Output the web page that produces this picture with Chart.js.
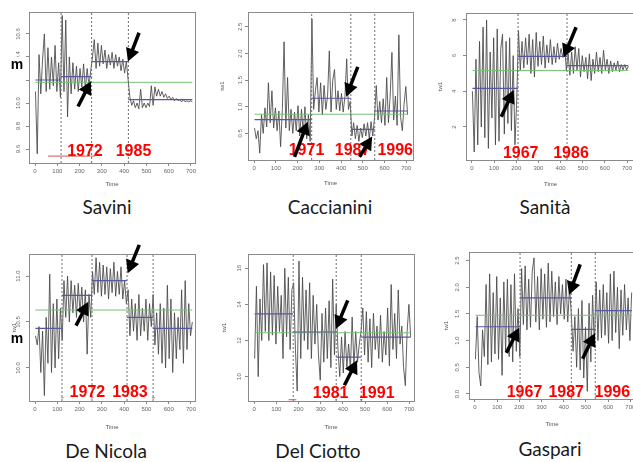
<!DOCTYPE html>
<html>
<head>
<meta charset="utf-8">
<script src="https://cdn.jsdelivr.net/npm/chart.js@4.4.0/dist/chart.umd.min.js"></script>
<style>
  html, body { margin: 0; padding: 0; background: #fff; overflow: hidden; }
  #wrap { position: relative; width: 633px; height: 462px; overflow: hidden; }
  #wrap canvas { position: absolute; }
  .name { position: absolute; width: 160px; text-align: center; font-family: Lato, 'Open Sans', sans-serif;
          font-size: 19px; line-height: 24px; color: #1a1a1a; }
</style>
</head>
<body>
<div id="wrap"></div>
<script>
// time axis: one value every 8 months starting at t = 2
const T0 = 2;
const STEP = 8;
const xTickValues = [0, 100, 200, 300, 400, 500, 600, 700];

const names = ['Savini', 'Caccianini', 'Sanità', 'De Nicola', 'Del Ciotto', 'Gaspari'];

// Savini
const saviniValues = [10.10, 9.56, 10.42, 10.08, 10.38, 10.60, 10.10, 10.48, 10.12, 10.40,
  10.15, 10.50, 10.10, 10.35, 10.05, 10.76, 10.10, 10.72, 9.88, 10.40,
  10.08, 10.35, 10.12, 10.32, 10.10, 10.30, 10.14, 10.34, 10.12, 10.30,
  10.15, 10.28, 10.40, 10.55, 10.30, 10.52, 10.32, 10.50, 10.34, 10.46,
  10.30, 10.42, 10.33, 10.44, 10.30, 10.42, 10.32, 10.40, 10.28, 10.38,
  10.26, 10.36, 10.20, 10.05, 9.98, 10.02, 9.96, 10.00, 9.95, 10.12,
  9.96, 10.00, 9.96, 10.00, 9.97, 10.15, 9.98, 10.14, 10.06, 10.12,
  10.06, 10.10, 10.05, 10.08, 10.04, 10.06, 10.03, 10.05, 10.02, 10.04,
  10.02, 10.03, 10.01, 10.03, 10.01, 10.02, 10.01, 10.02, 10.01];
const saviniBreaks = [117, 254, 419];
const saviniMeans = [10.20, 10.23, 10.36, 10.03];
const saviniOverall = 10.18;
const saviniYTicks = ['9.6', '9.8', '10.0', '10.2', '10.4', '10.6'];
const saviniYears = ['1972', '1985'];
const saviniCI = [[58, 248], [250, 268]];

// Caccianini
const caccianiniValues = [0.60, 0.40, 0.55, 0.13, 0.85, 0.50, 0.98, 0.62, 1.45, 0.70,
  1.30, 0.60, 0.98, 0.55, 0.92, 0.25, 0.95, 2.22, 0.60, 1.55,
  0.55, 0.95, 0.50, 0.90, 0.55, 1.02, 0.45, 0.95, 0.50, 1.00,
  0.40, 0.85, 0.35, 2.65, 0.95, 1.30, 1.55, 0.90, 1.45, 0.85,
  1.40, 0.95, 1.20, 2.05, 0.90, 1.50, 1.70, 0.95, 1.30, 0.92,
  1.25, 0.90, 1.20, 1.90, 0.95, 1.10, 0.45, 0.70, 0.40, 0.65,
  0.35, 0.60, 0.42, 0.68, 0.45, 0.70, 0.40, 0.72, 0.45, 0.80,
  1.40, 0.75, 1.10, 0.70, 1.15, 0.65, 1.55, 0.70, 1.20, 2.02,
  0.75, 1.20, 0.65, 2.35, 0.80, 0.55, 1.05, 1.38, 0.85];
const caccianiniBreaks = [265, 445, 555];
const caccianiniMeans = [0.76, 1.16, 0.575, 0.92];
const caccianiniOverall = 0.86;
const caccianiniYTicks = ['0.5', '1.0', '1.5', '2.0', '2.5'];
const caccianiniYears = ['1971', '1987', '1996'];
const caccianiniCI = [];

// Sanità
const sanitaValues = [4.0, 0.6, 5.8, 1.0, 6.8, 2.0, 7.6, 1.4, 8.0, 0.8,
  6.2, 2.5, 7.0, 1.0, 7.5, 1.2, 6.4, 7.2, 1.6, 6.8,
  2.2, 7.0, 1.8, 6.0, 1.0, 3.5, 7.4, 5.2, 6.8, 5.3,
  7.0, 5.5, 7.2, 5.0, 6.9, 4.8, 7.3, 5.4, 6.8, 5.5,
  7.1, 5.3, 6.6, 5.6, 6.9, 5.5, 6.5, 5.6, 6.7, 5.8,
  6.4, 5.9, 6.6, 5.2, 6.1, 4.9, 6.2, 5.0, 6.5, 5.2,
  6.4, 4.8, 6.0, 5.1, 5.9, 4.7, 6.1, 4.6, 5.8, 5.0,
  6.2, 5.1, 5.9, 5.0, 6.3, 5.2, 5.8, 5.0, 5.7, 5.1,
  5.6, 5.2, 5.7, 5.1, 5.5, 5.2, 5.5, 5.2, 5.4];
const sanitaBreaks = [208, 429];
const sanitaMeans = [4.16, 5.96, 5.44];
const sanitaOverall = 5.17;
const sanitaYTicks = ['2', '4', '6', '8'];
const sanitaYears = ['1967', '1986'];
const sanitaCI = [];

// De Nicola
const deNicolaValues = [10.35, 10.25, 10.45, 9.95, 10.40, 9.70, 10.55, 10.05, 11.02, 9.95,
  10.70, 10.00, 10.75, 10.10, 10.65, 10.30, 10.95, 10.55, 11.00, 10.50,
  10.95, 10.60, 10.90, 10.55, 10.92, 10.60, 10.88, 10.50, 10.85, 10.15,
  10.80, 10.55, 11.05, 10.80, 11.20, 10.82, 11.15, 10.78, 11.12, 10.80,
  11.10, 10.75, 11.08, 10.82, 11.15, 10.78, 11.05, 10.80, 11.10, 10.75,
  10.95, 10.70, 10.85, 10.35, 10.75, 10.40, 10.70, 10.30, 10.80, 10.35,
  10.65, 10.40, 10.75, 10.30, 10.70, 10.45, 10.80, 10.25, 10.60, 10.15,
  10.70, 10.05, 10.65, 10.00, 10.90, 10.10, 10.75, 9.95, 10.60, 10.10,
  10.55, 10.20, 10.85, 10.05, 10.95, 10.20, 10.70, 10.35, 10.50];
const deNicolaBreaks = [121, 256, 413, 530];
const deNicolaMeans = [10.43, 10.79, 10.95, 10.55, 10.43];
const deNicolaOverall = 10.63;
const deNicolaYTicks = ['10.0', '10.5', '11.0'];
const deNicolaYears = ['1972', '1983'];
const deNicolaCI = [[118, 128], [250, 262], [525, 538]];

// Del Ciotto
const delCiottoValues = [11.0, 15.0, 10.0, 14.3, 12.0, 16.2, 12.5, 16.3, 12.0, 15.8,
  12.3, 15.6, 11.8, 15.0, 12.5, 14.5, 11.0, 16.0, 12.2, 15.5,
  11.5, 14.8, 15.2, 11.5, 9.2, 16.4, 11.0, 15.5, 12.0, 14.8,
  11.5, 15.2, 11.0, 14.5, 11.8, 14.0, 11.2, 9.8, 13.5, 10.8,
  13.8, 11.0, 14.2, 10.5, 15.4, 11.2, 14.0, 11.5, 10.0, 12.2,
  10.2, 12.5, 10.5, 11.8, 10.4, 13.3, 10.6, 12.5, 10.8, 11.8,
  12.5, 13.8, 11.2, 13.6, 10.8, 13.2, 10.5, 13.5, 11.5, 12.8,
  11.0, 13.4, 10.8, 12.5, 11.2, 13.8, 10.6, 15.1, 11.5, 13.5,
  11.0, 14.8, 11.8, 12.8, 10.5, 9.5, 12.5, 14.0, 12.2];
const delCiottoBreaks = [176, 370, 483];
const delCiottoMeans = [13.48, 12.47, 11.08, 12.19];
const delCiottoOverall = 12.43;
const delCiottoYTicks = ['10', '12', '14', '16'];
const delCiottoYears = ['1981', '1991'];
const delCiottoCI = [[155, 190], [366, 374], [478, 488]];

// Gaspari
const gaspariValues = [0.65, 1.45, 0.40, 0.15, 1.20, 0.70, 2.05, 0.55, 2.25, 0.60,
  1.90, 0.75, 2.20, 0.65, 1.80, 0.35, 2.10, 0.80, 2.15, 0.70,
  2.05, 0.60, 2.25, 0.80, 1.60, 0.70, 2.35, 1.30, 2.40, 1.20,
  2.15, 1.25, 2.30, 2.55, 1.35, 2.20, 1.20, 2.35, 1.40, 2.25,
  1.25, 2.45, 1.35, 2.30, 1.45, 2.10, 1.30, 2.20, 1.50, 2.05,
  1.40, 2.15, 1.35, 2.00, 1.50, 0.80, 1.45, 0.50, 1.60, 0.45,
  1.75, 0.30, 1.25, 0.05, 1.70, 0.60, 1.85, 0.90, 2.10, 1.00,
  1.95, 1.05, 2.05, 1.10, 1.90, 0.95, 2.25, 1.00, 2.30, 1.15,
  2.00, 0.85, 1.95, 1.10, 2.05, 1.20, 1.80, 1.00, 1.90];
const gaspariBreaks = [203, 434, 542];
const gaspariMeans = [1.26, 1.80, 1.21, 1.56];
const gaspariOverall = 1.475;
const gaspariYTicks = ['0.0', '0.5', '1.0', '1.5', '2.0', '2.5'];
const gaspariYears = ['1967', '1987', '1996'];
const gaspariCI = [];

const series = [
  { values: saviniValues, breaks: saviniBreaks, means: saviniMeans, overall: saviniOverall, yTicks: saviniYTicks, years: saviniYears, ci: saviniCI },
  { values: caccianiniValues, breaks: caccianiniBreaks, means: caccianiniMeans, overall: caccianiniOverall, yTicks: caccianiniYTicks, years: caccianiniYears, ci: caccianiniCI },
  { values: sanitaValues, breaks: sanitaBreaks, means: sanitaMeans, overall: sanitaOverall, yTicks: sanitaYTicks, years: sanitaYears, ci: sanitaCI },
  { values: deNicolaValues, breaks: deNicolaBreaks, means: deNicolaMeans, overall: deNicolaOverall, yTicks: deNicolaYTicks, years: deNicolaYears, ci: deNicolaCI },
  { values: delCiottoValues, breaks: delCiottoBreaks, means: delCiottoMeans, overall: delCiottoOverall, yTicks: delCiottoYTicks, years: delCiottoYears, ci: delCiottoCI },
  { values: gaspariValues, breaks: gaspariBreaks, means: gaspariMeans, overall: gaspariOverall, yTicks: gaspariYTicks, years: gaspariYears, ci: gaspariCI }
];

// layout of each panel: canvas [left, top, w, h], plot box [l, t, r, b], axis ranges,
// annotation anchors in data units (year labels, arrows tail->tip)
const layout = [
  { canvas: [0, 0, 211, 190], box: [29, 12, 195, 163], x: [-27, 718], y: [9.48, 10.79], ylab: null, ylx: 11,
    years: [[224, 9.58], [442, 9.58]], arrows: [[193, 9.97, 251, 10.19], [467, 10.61, 417, 10.36]],
    ciY: 9.54, m: [17, 69], mBox: [7, 57, 18, 30], name: [107, 195] },
  { canvas: [211, 0, 211, 189], box: [37, 12, 202, 160], x: [-28, 731], y: [0.0, 2.78], ylab: 8, ylx: 8,
    years: [[241, 0.17], [453, 0.17], [649, 0.17]],
    arrows: [[186, 0.06, 247, 0.72], [477, 1.75, 424, 1.19], [485, 0.06, 543, 0.44]],
    ciY: 0.05, m: null, name: [330, 195] },
  { canvas: [422, 0, 222, 190], box: [44, 13, 213, 160], x: [-27, 736], y: [0.15, 8.39], ylab: 15, ylx: 12,
    years: [[220, 0.52], [447, 0.52]], arrows: [[132, 2.57, 188, 4.07], [470, 7.59, 414, 5.91]],
    ciY: 0.3, m: null, name: [545, 195] },
  { canvas: [0, 230, 211, 203], box: [29, 24, 195, 171], x: [-27, 718], y: [9.64, 11.24], ylab: 11, ylx: 11,
    years: [[235, 9.73], [426, 9.73]], arrows: [[184, 10.46, 239, 10.72], [468, 11.34, 416, 11.03]],
    ciY: 9.675, m: [17, 113], name: [106, 439] },
  { canvas: [211, 230, 211, 203], box: [37, 24, 203, 171], x: [-28, 721], y: [8.65, 16.79], ylab: 10, ylx: 9,
    years: [[345, 9.06], [553, 9.06]], arrows: [[422, 14.22, 369, 12.65], [407, 9.52, 464, 10.9]],
    ciY: 8.72, m: null, name: [318, 439] },
  { canvas: [422, 230, 222, 200], box: [47, 22, 213, 169], x: [-27, 721], y: [-0.094, 2.66], ylab: 21, ylx: 12,
    years: [[223, 0.03], [411, 0.03], [619, 0.03]],
    arrows: [[141, 0.77, 199, 1.24], [474, 2.43, 424, 1.86], [485, 0.66, 540, 1.14]],
    ciY: -0.05, m: null, name: [550, 437] }
];

Chart.defaults.font.family = "'Liberation Sans', Arial, sans-serif";

function drawArrow(ctx, x0, y0, x1, y1) {
  const a = Math.atan2(y1 - y0, x1 - x0);
  const head = 13, half = 7;
  const bx = x1 - head * Math.cos(a), by = y1 - head * Math.sin(a);
  ctx.strokeStyle = '#000';
  ctx.fillStyle = '#000';
  ctx.lineWidth = 3.5;
  ctx.beginPath();
  ctx.moveTo(x0, y0);
  ctx.lineTo(bx + Math.cos(a), by + Math.sin(a));
  ctx.stroke();
  ctx.beginPath();
  ctx.moveTo(x1, y1);
  ctx.lineTo(bx + half * Math.sin(a), by - half * Math.cos(a));
  ctx.lineTo(bx - half * Math.sin(a), by + half * Math.cos(a));
  ctx.closePath();
  ctx.fill();
}

// box, rotated y labels, red year labels, arrows
function decoPlugin(s, L) {
  return {
    id: 'deco',
    afterDraw(chart) {
      const ctx = chart.ctx;
      const a = chart.chartArea;
      const sx = chart.scales.x, sy = chart.scales.y;
      ctx.save();
      ctx.strokeStyle = '#8a8a8a';
      ctx.lineWidth = 1;
      ctx.strokeRect(Math.round(a.left) + 0.5, Math.round(a.top) + 0.5, Math.round(a.right - a.left), Math.round(a.bottom - a.top));

      ctx.fillStyle = '#666';
      ctx.font = "6px 'Liberation Sans'";
      ctx.textAlign = 'center';
      ctx.textBaseline = 'middle';
      s.yTicks.forEach(lab => {
        const py = sy.getPixelForValue(parseFloat(lab));
        ctx.save();
        ctx.translate(a.left - L.ylx, py);
        ctx.rotate(-Math.PI / 2);
        ctx.fillText(lab, 0, 0);
        ctx.restore();
      });

      ctx.fillStyle = '#ff0000';
      ctx.font = "bold 16px 'Liberation Sans'";
      s.years.forEach((yr, i) => {
        const p = L.years[i];
        ctx.fillText(yr, sx.getPixelForValue(p[0]), sy.getPixelForValue(p[1]));
      });

      L.arrows.forEach(ar => {
        drawArrow(ctx, sx.getPixelForValue(ar[0]), sy.getPixelForValue(ar[1]),
          sx.getPixelForValue(ar[2]), sy.getPixelForValue(ar[3]));
      });

      if (L.m) {
        if (L.mBox) {
          ctx.fillStyle = '#fff';
          ctx.fillRect(L.mBox[0], L.mBox[1], L.mBox[2], L.mBox[3]);
        }
        ctx.fillStyle = '#000';
        ctx.font = "bold 14px 'Liberation Sans'";
        ctx.textBaseline = 'alphabetic';
        ctx.fillText('m', L.m[0], L.m[1]);
      }
      ctx.restore();
    }
  };
}

const wrap = document.getElementById('wrap');

function makePanel(s, L, name) {
  const cv = document.createElement('canvas');
  cv.width = L.canvas[2];
  cv.height = L.canvas[3];
  cv.style.left = L.canvas[0] + 'px';
  cv.style.top = L.canvas[1] + 'px';
  wrap.appendChild(cv);

  const div = document.createElement('div');
  div.className = 'name';
  div.textContent = name;
  div.style.left = (L.name[0] - 80) + 'px';
  div.style.top = L.name[1] + 'px';
  wrap.appendChild(div);

  const line = s.values.map((v, i) => ({ x: T0 + STEP * i, y: v }));
  const tEnd = T0 + STEP * (s.values.length - 1);
  const edges = [T0].concat(s.breaks, [tEnd]);
  const steps = [];
  s.means.forEach((m, i) => {
    steps.push({ x: edges[i], y: m }, { x: edges[i + 1], y: m }, { x: edges[i + 1], y: null });
  });
  const vlines = [];
  s.breaks.forEach(b => vlines.push({ x: b, y: L.y[0] }, { x: b, y: L.y[1] }, { x: b, y: null }));
  const ci = [];
  s.ci.forEach(c => ci.push({ x: c[0], y: L.ciY }, { x: c[1], y: L.ciY }, { x: c[1], y: null }));

  new Chart(cv, {
    type: 'line',
    data: {
      datasets: [
        { data: vlines, borderColor: '#707070', borderDash: [2, 2], borderWidth: 1 },
        { data: steps, borderColor: '#5858a0', borderWidth: 1.2 },
        { data: [{ x: T0, y: s.overall }, { x: tEnd, y: s.overall }], borderColor: '#74c274', borderWidth: 1 },
        { data: ci, borderColor: '#d9534f', borderWidth: 1 },
        { data: line, borderColor: 'rgba(70,70,70,0.85)', borderWidth: 1 }
      ]
    },
    options: {
      responsive: false,
      animation: false,
      events: [],
      spanGaps: false,
      layout: { padding: { left: 0, top: L.box[1], right: L.canvas[2] - L.box[2], bottom: 0 } },
      elements: { point: { radius: 0 }, line: { tension: 0, fill: false } },
      plugins: { legend: { display: false }, tooltip: { enabled: false } },
      scales: {
        x: {
          type: 'linear', min: L.x[0], max: L.x[1],
          afterBuildTicks: sc => { sc.ticks = xTickValues.map(v => ({ value: v })); },
          afterFit: sc => { sc.height = L.canvas[3] - L.box[3]; },
          grid: { drawOnChartArea: false, tickLength: 3, color: '#888' },
          border: { display: false },
          ticks: { font: { size: 6 }, color: '#666', padding: 2, maxRotation: 0, autoSkip: false },
          title: { display: true, text: 'Time', font: { size: 6 }, color: '#555', padding: { top: 0, bottom: 2.5 } }
        },
        y: {
          type: 'linear', min: L.y[0], max: L.y[1],
          afterBuildTicks: sc => { sc.ticks = s.yTicks.map(v => ({ value: parseFloat(v) })); },
          afterFit: sc => { sc.width = L.box[0]; },
          grid: { drawOnChartArea: false, tickLength: 3, color: '#888' },
          border: { display: false },
          ticks: { display: false },
          title: { display: L.ylab !== null, text: 'tw1', font: { size: 6 }, color: '#555', padding: { top: L.ylab || 0, bottom: 0 } }
        }
      }
    },
    plugins: [decoPlugin(s, L)]
  });
}

series.forEach((s, k) => makePanel(s, layout[k], names[k]));
</script>
</body>
</html>
